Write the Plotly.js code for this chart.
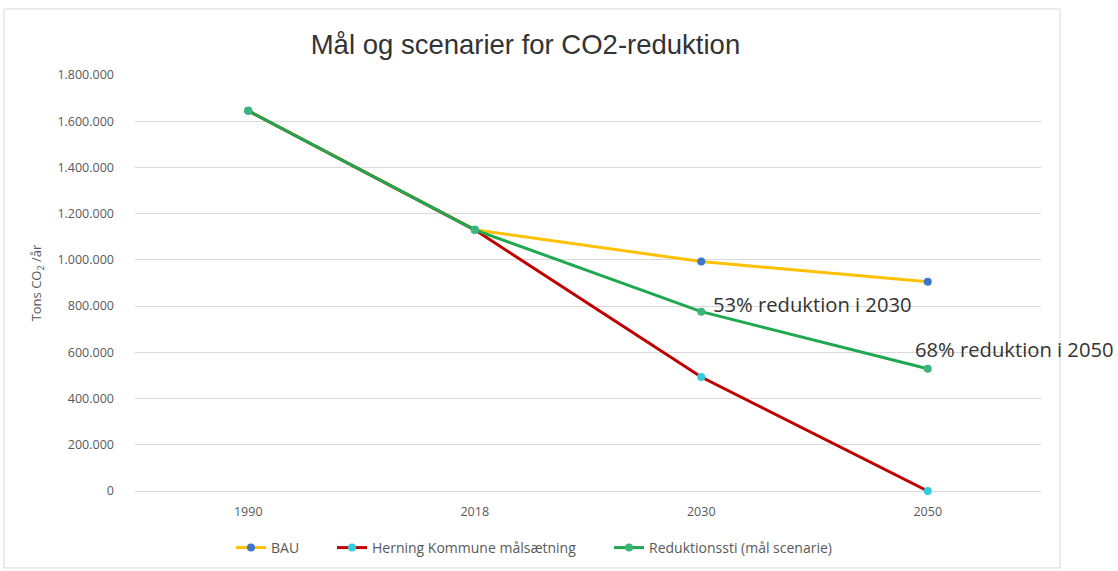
<!DOCTYPE html>
<html>
<head>
<meta charset="utf-8">
<script src="https://cdn.plot.ly/plotly-3.0.1.min.js"></script>
<style>html,body{margin:0;padding:0;background:#fff;}#chart{width:1118px;height:571px;}</style>
</head>
<body>
<div id="chart"></div>
<script>
const years = ["1990", "2018", "2030", "2050"];
const bau = [1645000, 1130000, 993000, 905000];
const herning = [1645000, 1130000, 493000, 0];
const reduktion = [1645000, 1130000, 776000, 529000];
const yTicks = [0, 200000, 400000, 600000, 800000, 1000000, 1200000, 1400000, 1600000, 1800000];
const noteYears = ["2030", "2050"];
const noteValues = [776000, 529000];
const noteTexts = ["53% reduktion i 2030", "68% reduktion i 2050"];

// label placement (style, not data)
const noteShift = [{x: 10, y: 8}, {x: -15, y: 20}];

const traces = [
  {x: years, y: bau, name: "BAU", mode: "lines+markers", legend: "legend",
   line: {color: "#FFC000", width: 3}, marker: {color: "#3C78C8", size: 8}, cliponaxis: false},
  {x: years, y: herning, name: "Herning Kommune målsætning", mode: "lines+markers", legend: "legend2",
   line: {color: "#C00000", width: 3}, marker: {color: "#33CCDD", size: 8}, cliponaxis: false},
  {x: years, y: reduktion, name: "Reduktionssti (mål scenarie)", mode: "lines+markers", legend: "legend3",
   line: {color: "#1FA84F", width: 3}, marker: {color: "#3DB57A", size: 8}, cliponaxis: false}
];

const legFont = {family: "Open Sans, sans-serif", size: 14, color: "#595959"};
function leg(px) {
  return {orientation: "h", x: (px - 135) / 906, xanchor: "left", y: -0.137, yanchor: "middle",
          font: legFont, bgcolor: "rgba(0,0,0,0)"};
}

const layout = {
  width: 1118, height: 571,
  margin: {l: 135, r: 77, t: 75, b: 80, autoexpand: false},
  paper_bgcolor: "#ffffff", plot_bgcolor: "#ffffff",
  separators: ",.",
  title: {text: "Mål og scenarier for CO2-reduktion", x: 0.47, xref: "container", xanchor: "center",
          y: 0.923, yref: "container", yanchor: "middle",
          font: {family: "Liberation Sans, Arial, sans-serif", size: 27.5, color: "#333333"}},
  xaxis: {type: "category", range: [-0.5, 3.5], showgrid: false, showline: false, zeroline: false,
          ticks: "", tickfont: {family: "Open Sans, sans-serif", size: 12.5, color: "#595959"}, ticklabelstandoff: 11},
  yaxis: {range: [0, 1800000], tickvals: yTicks, tickformat: ",", showgrid: true, gridcolor: "#D9D9D9",
          zeroline: true, zerolinecolor: "#D9D9D9", zerolinewidth: 1, showline: false, ticks: "",
          ticklabelstandoff: 20,
          tickfont: {family: "Open Sans, sans-serif", size: 12.5, color: "#595959"},
          title: {text: "Tons CO<sub>2</sub> /år", standoff: 12,
                  font: {family: "Open Sans, sans-serif", size: 13, color: "#595959"}}},
  legend: leg(231),
  legend2: leg(332),
  legend3: leg(609),
  showlegend: true,
  annotations: noteYears.map((yr, i) => ({x: years.indexOf(yr), y: noteValues[i], text: noteTexts[i], showarrow: false,
    xref: "x", yref: "y",
    xanchor: "left", yanchor: "middle", xshift: noteShift[i].x, yshift: noteShift[i].y,
    font: {family: "Open Sans, sans-serif", size: 20.2, color: "#333333"}})),
  shapes: [{type: "rect", xref: "paper", yref: "paper", x0: -0.1446, x1: 1.021, y0: -0.185, y1: 1.1587,
            line: {color: "#D9D9D9", width: 1}, fillcolor: "rgba(0,0,0,0)", layer: "below"}]
};

Plotly.newPlot("chart", traces, layout, {displayModeBar: false, staticPlot: true});
</script>
</body>
</html>
